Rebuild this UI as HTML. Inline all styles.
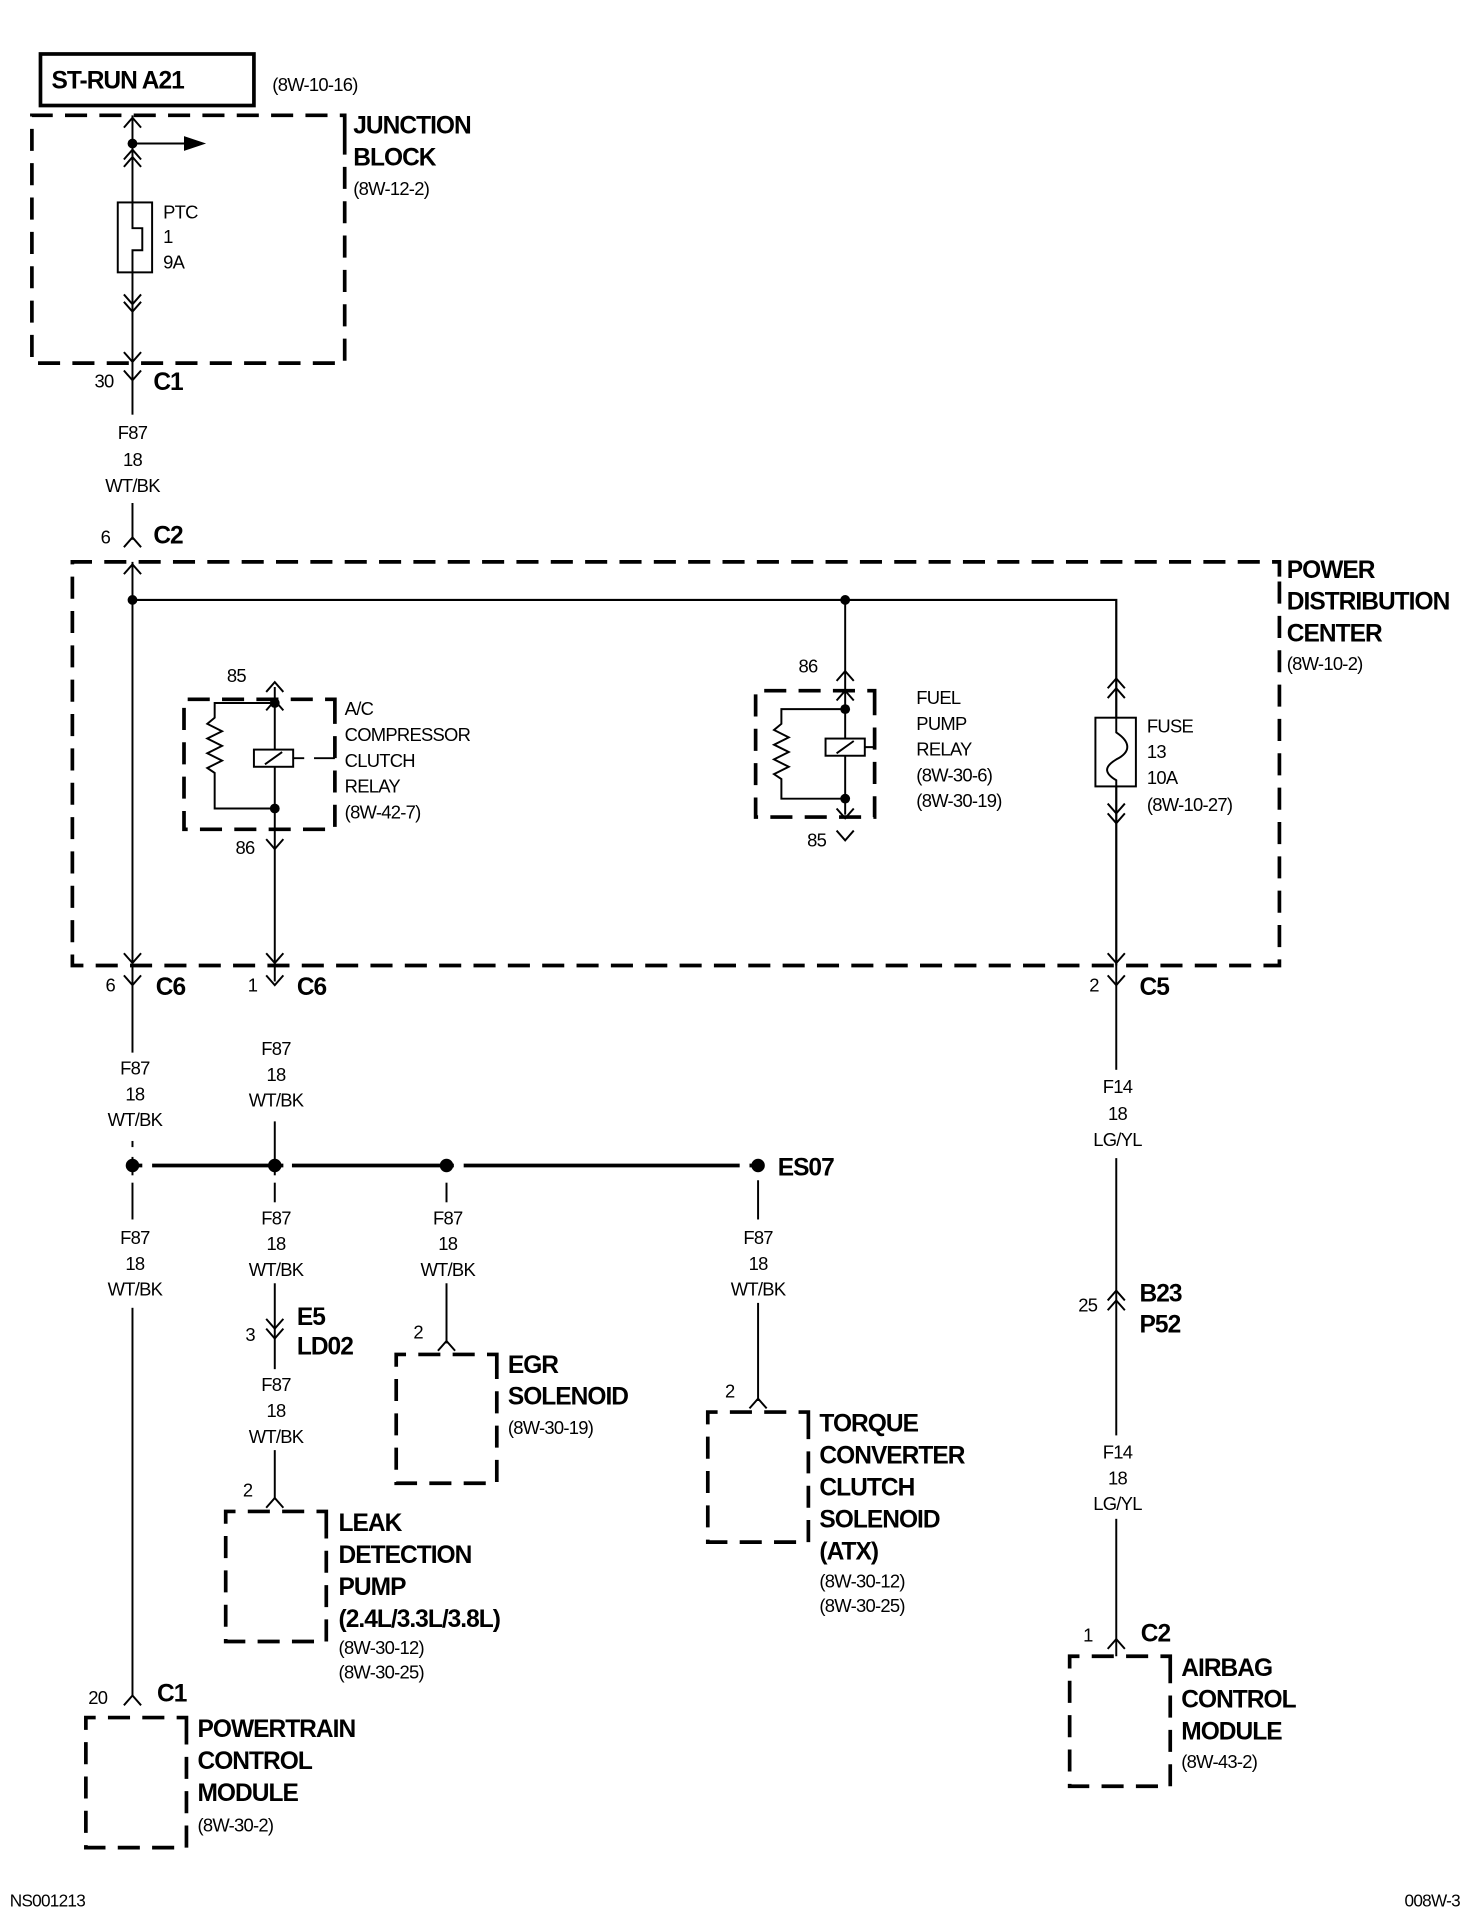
<!DOCTYPE html>
<html><head><meta charset="utf-8"><style>
html,body{margin:0;padding:0;background:#fff}
svg{display:block}
.d{fill:none;stroke:#000;stroke-width:3;stroke-dasharray:18 10}
.w{fill:none;stroke:#000;stroke-width:1.6}
.c{fill:none;stroke:#000;stroke-width:1.6}
text{font-family:"Liberation Sans",sans-serif;fill:#000}
.b{font-weight:bold;font-size:20px;letter-spacing:-0.8px}
.r{font-size:15px;letter-spacing:-0.6px}
.m{font-size:15px;letter-spacing:-0.6px;text-anchor:middle}
</style></head><body>
<svg width="1472" height="1920" viewBox="0 0 1200 1565" preserveAspectRatio="none" xmlns="http://www.w3.org/2000/svg">
<rect x="33" y="44" width="174" height="42" fill="none" stroke="#000" stroke-width="3"/>
<text x="42" y="72" class="b">ST-RUN A21</text>
<text x="222" y="74" class="r">(8W-10-16)</text>

<path class="d" d="M281 108 V94 H26 V296 H281 V108"/>
<text x="288" y="109" class="b">JUNCTION</text>
<text x="288" y="135" class="b">BLOCK</text>
<text x="288" y="159" class="r">(8W-12-2)</text>
<path class="w" d="M108 94 V440"/>
<path class="c" d="M101 104 L108 96 L115 104"/>
<circle cx="108" cy="117" r="4"/>
<path class="w" d="M108 117 H152"/>
<path d="M150 111 L168 117 L150 123Z"/>
<path class="c" d="M101 130 L108 122 L115 130 M101 136 L108 128 L115 136"/>
<rect x="96" y="165" width="28" height="57" fill="#fff" stroke="#000" stroke-width="1.6"/>
<path class="w" d="M108 165 V186 H116 V204 H108 V222"/>
<text x="133" y="178" class="r">PTC</text>
<text x="133" y="198" class="r">1</text>
<text x="133" y="219" class="r">9A</text>
<path class="c" d="M101 240 L108 248 L115 240 M101 246 L108 254 L115 246"/>
<path class="c" d="M101 287 L108 295 L115 287"/>
<path class="c" d="M101 302 L108 310 L115 302"/>
<text x="77" y="316" class="r">30</text>
<text x="125" y="318" class="b">C1</text>
<rect x="100" y="338" width="16" height="72" fill="#fff"/>
<text x="108" y="358" class="m">F87</text>
<text x="108" y="380" class="m">18</text>
<text x="108" y="401" class="m">WT/BK</text>
<path class="c" d="M101 446 L108 438 L115 446"/>
<text x="82" y="443" class="r">6</text>
<text x="125" y="443" class="b">C2</text>

<path class="d" d="M1043 470 V458 H59 V787 H1043 V470"/>
<text x="1049" y="471" class="b">POWER</text>
<text x="1049" y="497" class="b">DISTRIBUTION</text>
<text x="1049" y="523" class="b">CENTER</text>
<text x="1049" y="546" class="r">(8W-10-2)</text>
<path class="c" d="M101 468 L108 460 L115 468"/>
<path class="w" d="M108 458 V1382"/>
<path class="w" d="M108 489 H910 V787" style="stroke-width:1.8"/>
<circle cx="108" cy="489" r="4"/><circle cx="689" cy="489" r="4"/>

<path class="d" d="M273 580 V570 H150 V676 H273 V580"/>
<path class="w" d="M224 560 V800"/>
<path class="c" d="M217 564 L224 556 L231 564 M217 579 L224 571 L231 579"/>
<path class="c" d="M217 684 L224 692 L231 684"/>
<text x="185" y="556" class="r">85</text>
<text x="192" y="696" class="r">86</text>
<path class="w" d="M224 573 H175 V585 l-6 5 l12 6 l-12 6 l12 6 l-12 6 l12 6 l-12 6 l6 4 V659 H224"/>
<circle cx="224" cy="573" r="4"/><circle cx="224" cy="659" r="4"/>
<rect x="207" y="611" width="32" height="14" fill="#fff" stroke="#000" stroke-width="1.6"/>
<path class="w" d="M216 623 L230 613 M239 618 H248 M256 618 H273"/>
<text x="281" y="583" class="r">A/C</text>
<text x="281" y="604" class="r">COMPRESSOR</text>
<text x="281" y="625" class="r">CLUTCH</text>
<text x="281" y="646" class="r">RELAY</text>
<text x="281" y="667" class="r">(8W-42-7)</text>

<path class="d" d="M713 575 V563 H616 V666 H713 V575"/>
<path class="w" d="M689 489 V664"/>
<path class="c" d="M682 555 L689 547 L696 555 M682 571 L689 563 L696 571"/>
<path class="c" d="M682 659 L689 667 L696 659 M682 677 L689 685 L696 677"/>
<text x="651" y="548" class="r">86</text>
<text x="658" y="690" class="r">85</text>
<path class="w" d="M689 578 H637 V590 l-6 5 l12 6 l-12 6 l12 6 l-12 6 l12 6 l-12 6 l6 4 V651 H689"/>
<circle cx="689" cy="578" r="4"/><circle cx="689" cy="651" r="4"/>
<rect x="673" y="602" width="32" height="14" fill="#fff" stroke="#000" stroke-width="1.6"/>
<path class="w" d="M682 614 L696 604 M705 609 H714"/>
<text x="747" y="574" class="r">FUEL</text>
<text x="747" y="595" class="r">PUMP</text>
<text x="747" y="616" class="r">RELAY</text>
<text x="747" y="637" class="r">(8W-30-6)</text>
<text x="747" y="658" class="r">(8W-30-19)</text>

<path class="c" d="M903 561 L910 553 L917 561 M903 569 L910 561 L917 569"/>
<rect x="893" y="585" width="33" height="56" fill="#fff" stroke="#000" stroke-width="1.6"/>
<path class="w" d="M910 585 V597 C922 605 922 613 910 619 C900 625 900 630 910 636 V641"/>
<path class="c" d="M903 655 L910 663 L917 655 M903 663 L910 671 L917 663"/>
<path class="c" d="M903 777 L910 785 L917 777"/>
<text x="935" y="597" class="r">FUSE</text>
<text x="935" y="618" class="r">13</text>
<text x="935" y="639" class="r">10A</text>
<text x="935" y="661" class="r">(8W-10-27)</text>
<path class="c" d="M101 777 L108 785 L115 777 M217 777 L224 785 L231 777"/>

<path class="c" d="M101 795 L108 803 L115 795 M217 795 L224 803 L231 795 M903 795 L910 803 L917 795"/>
<text x="86" y="808" class="r">6</text>
<text x="127" y="811" class="b">C6</text>
<text x="202" y="808" class="r">1</text>
<text x="242" y="811" class="b">C6</text>
<text x="888" y="808" class="r">2</text>
<text x="929" y="811" class="b">C5</text>
<path class="w" d="M910 787 V1350"/>
<rect x="100" y="858" width="18" height="72" fill="#fff"/>
<rect x="214" y="842" width="20" height="72" fill="#fff"/>
<rect x="895" y="872" width="30" height="72" fill="#fff"/>
<text x="110" y="876" class="m">F87</text><text x="110" y="897" class="m">18</text><text x="110" y="918" class="m">WT/BK</text>
<text x="225" y="860" class="m">F87</text><text x="225" y="881" class="m">18</text><text x="225" y="902" class="m">WT/BK</text>
<text x="911" y="891" class="m">F14</text><text x="911" y="913" class="m">18</text><text x="911" y="934" class="m">LG/YL</text>

<rect x="100" y="935" width="16" height="8" fill="#fff"/>
<rect x="100" y="958" width="16" height="6" fill="#fff"/>
<path d="M108 950 H618" stroke="#000" stroke-width="3"/>
<rect x="116" y="944" width="8" height="12" fill="#fff"/><rect x="231" y="944" width="7" height="12" fill="#fff"/><rect x="370" y="944" width="8" height="12" fill="#fff"/><rect x="603" y="944" width="8" height="12" fill="#fff"/>
<circle cx="108" cy="950" r="5.5"/><circle cx="224" cy="950" r="5.5"/><circle cx="364" cy="950" r="5.5"/><circle cx="618" cy="950" r="5.5"/>
<text x="634" y="958" class="b">ES07</text>
<path class="w" d="M224 914 V1222 M364 962 V1095 M618 962 V1142"/>
<rect x="210" y="958" width="28" height="6" fill="#fff"/><rect x="350" y="958" width="28" height="6" fill="#fff"/>
<rect x="92" y="994" width="36" height="72" fill="#fff"/>
<rect x="206" y="980" width="38" height="66" fill="#fff"/>
<rect x="346" y="980" width="38" height="66" fill="#fff"/>
<rect x="600" y="994" width="38" height="68" fill="#fff"/>
<text x="110" y="1014" class="m">F87</text><text x="110" y="1035" class="m">18</text><text x="110" y="1056" class="m">WT/BK</text>
<text x="225" y="998" class="m">F87</text><text x="225" y="1019" class="m">18</text><text x="225" y="1040" class="m">WT/BK</text>
<text x="365" y="998" class="m">F87</text><text x="365" y="1019" class="m">18</text><text x="365" y="1040" class="m">WT/BK</text>
<text x="618" y="1014" class="m">F87</text><text x="618" y="1035" class="m">18</text><text x="618" y="1056" class="m">WT/BK</text>

<path class="c" d="M217 1075 L224 1083 L231 1075 M217 1083 L224 1091 L231 1083"/>
<text x="200" y="1093" class="r">3</text>
<text x="242" y="1080" class="b">E5</text>
<text x="242" y="1104" class="b">LD02</text>
<rect x="206" y="1116" width="38" height="66" fill="#fff"/>
<text x="225" y="1134" class="m">F87</text><text x="225" y="1155" class="m">18</text><text x="225" y="1176" class="m">WT/BK</text>

<path class="c" d="M217 1229 L224 1221 L231 1229"/>
<text x="198" y="1220" class="r">2</text>
<path class="d" d="M266 1242 V1232 H184 V1338 H266 V1242"/>
<text x="276" y="1248" class="b">LEAK</text>
<text x="276" y="1274" class="b">DETECTION</text>
<text x="276" y="1300" class="b">PUMP</text>
<text x="276" y="1326" class="b">(2.4L/3.3L/3.8L)</text>
<text x="276" y="1348" class="r">(8W-30-12)</text>
<text x="276" y="1368" class="r">(8W-30-25)</text>

<path class="c" d="M357 1101 L364 1093 L371 1101"/>
<text x="337" y="1091" class="r">2</text>
<path class="d" d="M405 1114 V1104 H323 V1209 H405 V1114"/>
<text x="414" y="1119" class="b">EGR</text>
<text x="414" y="1145" class="b">SOLENOID</text>
<text x="414" y="1169" class="r">(8W-30-19)</text>

<path class="c" d="M611 1148 L618 1140 L625 1148"/>
<text x="591" y="1139" class="r">2</text>
<path class="d" d="M659 1161 V1151 H577 V1257 H659 V1161"/>
<text x="668" y="1167" class="b">TORQUE</text>
<text x="668" y="1193" class="b">CONVERTER</text>
<text x="668" y="1219" class="b">CLUTCH</text>
<text x="668" y="1245" class="b">SOLENOID</text>
<text x="668" y="1271" class="b">(ATX)</text>
<text x="668" y="1294" class="r">(8W-30-12)</text>
<text x="668" y="1314" class="r">(8W-30-25)</text>

<path class="c" d="M903 1060 L910 1052 L917 1060 M903 1068 L910 1060 L917 1068"/>
<text x="879" y="1069" class="r">25</text>
<text x="929" y="1061" class="b">B23</text>
<text x="929" y="1086" class="b">P52</text>
<rect x="895" y="1170" width="30" height="68" fill="#fff"/>
<text x="911" y="1189" class="m">F14</text><text x="911" y="1210" class="m">18</text><text x="911" y="1231" class="m">LG/YL</text>
<path class="c" d="M903 1344 L910 1336 L917 1344"/>
<text x="883" y="1338" class="r">1</text>
<text x="930" y="1338" class="b">C2</text>
<path class="d" d="M954 1360 V1350 H872 V1456 H954 V1360"/>
<text x="963" y="1366" class="b">AIRBAG</text>
<text x="963" y="1392" class="b">CONTROL</text>
<text x="963" y="1418" class="b">MODULE</text>
<text x="963" y="1441" class="r">(8W-43-2)</text>

<path class="c" d="M101 1390 L108 1382 L115 1390"/>
<text x="72" y="1389" class="r">20</text>
<text x="128" y="1387" class="b">C1</text>
<path class="d" d="M152 1410 V1400 H70 V1506 H152 V1410"/>
<text x="161" y="1416" class="b">POWERTRAIN</text>
<text x="161" y="1442" class="b">CONTROL</text>
<text x="161" y="1468" class="b">MODULE</text>
<text x="161" y="1493" class="r">(8W-30-2)</text>

<text x="8" y="1554" class="r" style="font-size:14px">NS001213</text>
<text x="1145" y="1554" class="r" style="font-size:14px">008W-3</text>
</svg>
</body></html>
